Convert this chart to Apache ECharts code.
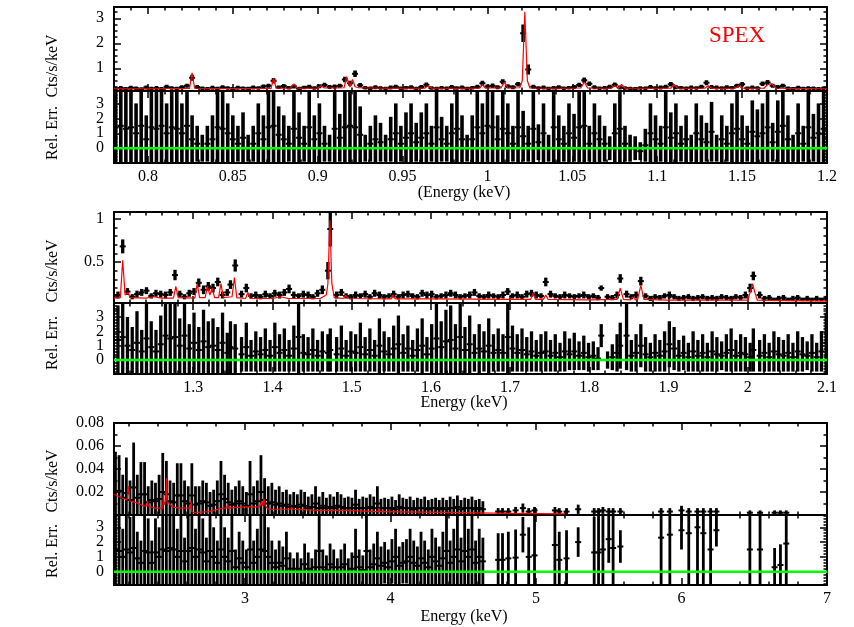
<!DOCTYPE html>
<html>
<head>
<meta charset="utf-8">
<title>SPEX fit</title>
<script src="https://cdn.jsdelivr.net/npm/echarts@6/dist/echarts.min.js"></script>
<style>
html, body { margin: 0; padding: 0; background: #fff; }
#chart { width: 854px; height: 627px; }
</style>
</head>
<body>
<div id="chart"></div>
<script>
// ---- panel 1 : 0.78 - 1.2 keV ----
var p1E = [0.781,0.784,0.787,0.790,0.793,0.796,0.799,0.802,0.805,0.808,
	0.811,0.814,0.817,0.820,0.823,0.826,0.829,0.832,0.835,0.838,
	0.841,0.844,0.847,0.850,0.853,0.856,0.859,0.862,0.865,0.868,
	0.871,0.874,0.877,0.880,0.883,0.886,0.889,0.892,0.895,0.898,
	0.901,0.904,0.907,0.910,0.913,0.916,0.919,0.922,0.925,0.928,
	0.931,0.934,0.937,0.940,0.943,0.946,0.949,0.952,0.955,0.958,
	0.961,0.964,0.967,0.970,0.973,0.976,0.979,0.982,0.985,0.988,
	0.991,0.994,0.997,1.000,1.003,1.006,1.009,1.012,1.015,1.018,
	1.021,1.024,1.027,1.030,1.033,1.036,1.039,1.042,1.045,1.048,
	1.051,1.054,1.057,1.060,1.063,1.066,1.069,1.072,1.075,1.078,
	1.081,1.084,1.087,1.090,1.093,1.096,1.099,1.102,1.105,1.108,
	1.111,1.114,1.117,1.120,1.123,1.126,1.129,1.132,1.135,1.138,
	1.141,1.144,1.147,1.150,1.153,1.156,1.159,1.162,1.165,1.168,
	1.171,1.174,1.177,1.180,1.183,1.186,1.189,1.192,1.195,1.198];
var p1Y = [0.19,0.21,0.18,0.22,0.20,0.17,0.23,0.19,0.21,0.18,
	0.26,0.21,0.19,0.24,0.30,0.62,0.25,0.20,0.18,0.22,
	0.19,0.24,0.21,0.18,0.22,0.20,0.19,0.23,0.21,0.27,
	0.30,0.50,0.24,0.29,0.22,0.27,0.19,0.23,0.26,0.21,
	0.28,0.33,0.25,0.27,0.30,0.55,0.40,0.78,0.32,0.22,
	0.20,0.24,0.21,0.19,0.23,0.26,0.20,0.22,0.24,0.19,
	0.25,0.34,0.21,0.19,0.22,0.20,0.25,0.21,0.23,0.19,
	0.22,0.26,0.40,0.27,0.30,0.24,0.46,0.28,0.24,0.36,
	2.40,0.95,0.26,0.21,0.23,0.19,0.22,0.24,0.20,0.22,
	0.25,0.33,0.52,0.38,0.24,0.20,0.22,0.26,0.34,0.23,
	0.21,0.19,0.18,0.21,0.20,0.25,0.21,0.23,0.26,0.36,
	0.24,0.22,0.20,0.23,0.21,0.26,0.42,0.25,0.23,0.21,
	0.24,0.22,0.30,0.36,0.20,0.23,0.21,0.38,0.43,0.30,
	0.25,0.30,0.20,0.18,0.22,0.19,0.21,0.20,0.18,0.20];
var p1Err = [0.07,0.08,0.07,0.08,0.07,0.07,0.08,0.07,0.08,0.07,
	0.08,0.07,0.07,0.08,0.08,0.12,0.08,0.07,0.07,0.08,
	0.07,0.08,0.07,0.07,0.08,0.07,0.07,0.08,0.07,0.08,
	0.08,0.11,0.07,0.08,0.07,0.08,0.07,0.07,0.08,0.07,
	0.08,0.09,0.08,0.08,0.08,0.11,0.10,0.13,0.09,0.07,
	0.07,0.08,0.07,0.07,0.08,0.08,0.07,0.07,0.08,0.07,
	0.08,0.09,0.07,0.07,0.07,0.07,0.08,0.07,0.08,0.07,
	0.07,0.08,0.10,0.08,0.09,0.08,0.10,0.08,0.08,0.09,
	0.35,0.20,0.08,0.07,0.08,0.07,0.07,0.08,0.07,0.07,
	0.08,0.09,0.11,0.09,0.08,0.07,0.07,0.08,0.09,0.08,
	0.07,0.07,0.07,0.07,0.07,0.08,0.07,0.08,0.08,0.09,
	0.08,0.07,0.07,0.08,0.07,0.08,0.10,0.08,0.08,0.07,
	0.08,0.07,0.08,0.09,0.07,0.08,0.07,0.09,0.10,0.08,
	0.08,0.08,0.07,0.07,0.08,0.07,0.07,0.07,0.07,0.07];
var p1Res = [1.4,1.5,1.3,1.4,1.0,1.5,0.6,1.4,1.3,1.5,
	1.0,1.4,1.3,1.0,1.5,0.6,0.3,0.0,0.3,0.6,
	1.4,1.3,1.0,0.6,0.3,0.7,0.0,0.3,1.0,0.6,
	1.4,1.5,0.9,0.6,0.3,1.3,0.7,0.3,1.4,0.6,
	1.0,0.3,0.0,1.3,0.7,1.4,1.5,1.4,0.9,0.0,
	0.3,0.6,0.4,0.0,0.6,1.0,0.3,0.7,1.0,0.4,
	0.7,1.0,0.3,1.4,0.6,0.3,1.0,1.3,0.6,0.0,
	0.6,1.4,1.0,1.5,1.4,0.6,1.3,1.0,0.3,1.4,
	0.8,0.3,1.3,0.4,1.0,0.0,1.4,0.6,0.3,1.0,
	0.7,1.4,1.5,0.3,1.0,0.6,0.3,0.0,1.0,1.3,
	0.3,0.0,0.0,-0.2,0.2,1.0,0.6,0.3,1.4,0.7,
	1.0,0.3,0.6,0.0,1.0,0.6,0.4,1.1,0.0,0.6,
	0.3,1.0,1.3,0.6,0.3,1.1,0.8,1.0,1.4,0.4,
	1.1,1.5,0.6,0.0,1.0,0.3,1.4,0.7,1.0,1.3];
var p1ResErr = [2.6,2.7,2.5,2.6,2.0,2.7,1.6,2.6,2.5,2.7,
	2.0,2.6,2.5,2.0,2.7,1.6,1.2,0.9,1.2,1.6,
	2.6,2.5,2.0,1.6,1.2,1.7,0.9,1.2,2.0,1.6,
	2.6,2.7,1.9,1.6,1.2,2.5,1.7,1.2,2.6,1.6,
	2.0,1.2,0.9,2.5,1.6,2.6,2.7,2.6,1.9,0.9,
	1.2,1.6,1.3,0.9,1.5,2.0,1.2,1.7,2.0,1.3,
	1.7,2.0,1.2,2.6,1.5,1.2,2.0,2.5,1.6,0.9,
	1.6,2.6,2.0,2.7,2.6,1.6,2.5,2.0,1.2,2.6,
	1.7,1.2,2.5,1.2,2.0,0.9,2.6,1.6,1.2,2.0,
	1.6,2.6,2.7,1.2,2.0,1.6,1.2,0.8,2.0,2.5,
	1.2,0.9,0.8,0.6,1.1,2.0,1.6,1.2,2.6,1.7,
	2.0,1.2,1.6,0.9,2.0,1.6,1.3,2.0,0.9,1.6,
	1.2,2.0,2.5,1.6,1.2,2.1,1.8,2.0,2.6,1.3,
	2.1,2.7,1.6,0.9,2.0,1.2,2.6,1.6,2.0,2.5];
var p1ModE = [0.78,0.80,0.815,0.8245,0.826,0.8275,0.84,0.86,0.8725,0.874,0.8755,0.884,0.886,0.888,
	0.9,0.902,0.904,0.912,0.9155,0.917,0.919,0.9205,0.922,0.924,0.94,0.963,0.965,0.967,0.99,
	0.9955,0.997,0.9985,1.008,1.010,1.012,1.019,1.0205,1.022,1.0235,1.025,1.04,1.055,1.057,
	1.059,1.073,1.075,1.077,1.079,1.081,1.095,1.108,1.110,1.112,1.128,1.130,1.132,1.146,1.148,
	1.150,1.163,1.165,1.1675,1.170,1.185,1.2];
var p1ModY = [0.18,0.18,0.19,0.19,0.82,0.20,0.19,0.19,0.19,0.60,0.20,0.20,0.38,0.20,
	0.20,0.30,0.21,0.21,0.22,0.66,0.25,0.55,0.26,0.22,0.20,0.20,0.30,0.20,0.20,
	0.20,0.35,0.21,0.21,0.45,0.21,0.22,0.50,3.26,0.50,0.21,0.20,0.21,0.45,
	0.21,0.20,0.30,0.20,0.35,0.20,0.20,0.20,0.35,0.20,0.20,0.30,0.20,0.20,0.30,
	0.20,0.20,0.35,0.38,0.20,0.19,0.18];

// ---- panel 2 : 1.2 - 2.1 keV ----
var p2E = [1.205,1.211,1.217,1.223,1.229,1.235,1.241,1.247,1.253,1.259,
	1.265,1.271,1.277,1.283,1.289,1.295,1.301,1.307,1.313,1.319,
	1.325,1.331,1.337,1.343,1.347,1.353,1.361,1.367,1.373,1.379,
	1.385,1.391,1.397,1.403,1.409,1.415,1.421,1.427,1.433,1.439,
	1.445,1.451,1.457,1.463,1.470,1.473,1.481,1.487,1.493,1.499,
	1.505,1.511,1.517,1.523,1.529,1.535,1.541,1.547,1.553,1.559,
	1.565,1.571,1.577,1.583,1.589,1.595,1.601,1.607,1.613,1.619,
	1.625,1.631,1.637,1.643,1.649,1.655,1.661,1.667,1.673,1.679,
	1.685,1.691,1.697,1.703,1.709,1.715,1.721,1.727,1.733,1.739,
	1.745,1.751,1.757,1.763,1.769,1.775,1.781,1.787,1.793,1.799,
	1.805,1.811,1.815,1.823,1.829,1.835,1.839,1.847,1.853,1.859,
	1.865,1.871,1.877,1.883,1.889,1.895,1.901,1.907,1.913,1.919,
	1.925,1.931,1.937,1.943,1.949,1.955,1.961,1.967,1.973,1.979,
	1.985,1.991,1.997,2.003,2.007,2.015,2.021,2.027,2.033,2.039,
	2.045,2.051,2.057,2.063,2.069,2.075,2.081,2.087,2.093,2.099];
var p2Y = [0.12,0.68,0.16,0.10,0.13,0.15,0.17,0.11,0.14,0.13,
	0.12,0.15,0.35,0.13,0.10,0.14,0.16,0.26,0.18,0.22,
	0.20,0.27,0.12,0.15,0.24,0.46,0.13,0.20,0.11,0.12,
	0.10,0.13,0.11,0.14,0.12,0.15,0.19,0.12,0.11,0.13,
	0.12,0.10,0.14,0.18,0.40,0.88,0.12,0.15,0.11,0.10,
	0.12,0.11,0.13,0.10,0.14,0.12,0.10,0.11,0.13,0.10,
	0.12,0.13,0.11,0.10,0.14,0.12,0.13,0.10,0.11,0.12,
	0.14,0.12,0.10,0.11,0.12,0.15,0.11,0.10,0.12,0.11,
	0.10,0.12,0.16,0.11,0.12,0.10,0.13,0.14,0.12,0.11,
	0.27,0.13,0.11,0.10,0.12,0.11,0.10,0.11,0.12,0.10,
	0.11,0.09,0.20,0.10,0.09,0.12,0.31,0.13,0.10,0.12,
	0.28,0.11,0.08,0.10,0.09,0.11,0.12,0.10,0.08,0.09,
	0.10,0.08,0.09,0.10,0.08,0.09,0.08,0.10,0.09,0.08,
	0.10,0.09,0.12,0.20,0.34,0.12,0.08,0.09,0.07,0.08,
	0.09,0.07,0.08,0.09,0.07,0.08,0.07,0.08,0.07,0.08];
var p2Err = [0.04,0.08,0.04,0.03,0.04,0.04,0.04,0.03,0.04,0.04,
	0.04,0.04,0.06,0.04,0.03,0.04,0.04,0.05,0.05,0.05,
	0.05,0.05,0.04,0.04,0.05,0.07,0.04,0.05,0.03,0.04,
	0.03,0.04,0.03,0.04,0.04,0.04,0.05,0.04,0.03,0.04,
	0.04,0.03,0.04,0.05,0.10,0.20,0.04,0.04,0.03,0.03,
	0.04,0.03,0.04,0.03,0.04,0.04,0.03,0.03,0.04,0.03,
	0.04,0.04,0.03,0.03,0.04,0.04,0.04,0.03,0.03,0.04,
	0.04,0.04,0.03,0.03,0.04,0.04,0.03,0.03,0.04,0.03,
	0.03,0.04,0.04,0.03,0.04,0.03,0.04,0.04,0.04,0.03,
	0.05,0.04,0.03,0.03,0.04,0.03,0.03,0.03,0.04,0.03,
	0.03,0.03,0.03,0.03,0.03,0.04,0.05,0.04,0.03,0.04,
	0.05,0.03,0.03,0.03,0.03,0.03,0.04,0.03,0.03,0.03,
	0.03,0.03,0.03,0.03,0.03,0.03,0.03,0.03,0.03,0.03,
	0.03,0.03,0.04,0.05,0.05,0.04,0.03,0.03,0.02,0.03,
	0.03,0.02,0.03,0.03,0.02,0.03,0.02,0.03,0.02,0.03];
var p2Res = [1.4,1.6,1.0,0.7,1.2,0.6,1.5,0.9,0.6,1.1,
	1.7,1.5,1.6,1.0,1.7,0.8,1.2,0.7,1.3,0.9,
	1.0,0.7,1.2,0.5,0.9,0.8,0.4,0.9,0.3,0.6,
	0.4,0.7,0.3,0.9,0.5,0.7,0.3,0.8,1.6,0.5,
	0.4,0.7,0.3,0.6,0.5,0.7,0.4,0.8,0.3,0.6,
	0.5,0.9,0.4,0.7,0.3,1.0,0.6,0.4,0.8,1.1,
	0.5,0.8,0.3,0.7,1.0,0.4,0.8,1.5,0.9,1.3,
	1.4,0.8,1.6,0.7,1.1,0.5,0.8,0.6,1.0,0.5,
	0.7,0.5,1.6,0.8,0.5,0.7,0.4,0.6,0.3,0.5,
	0.6,0.3,0.5,0.2,0.6,0.4,0.6,0.3,0.5,0.2,
	0.3,0.1,1.7,0.0,0.2,0.5,1.0,1.7,0.3,0.5,
	1.0,0.4,0.2,0.5,0.3,0.6,1.1,0.8,0.3,0.5,
	0.2,0.6,0.3,0.5,0.2,0.6,0.4,0.3,0.5,0.7,
	0.3,0.5,0.4,0.2,0.7,0.3,0.5,0.2,0.6,0.4,
	0.3,0.5,0.2,0.6,0.4,0.3,0.5,0.2,0.6,1.2];
var p2ResErr = [2.4,2.5,2.0,1.6,2.2,1.5,2.5,1.8,1.5,2.0,
	2.6,2.5,2.6,1.9,2.7,1.7,2.1,1.6,2.2,1.8,
	1.9,1.6,2.1,1.4,1.8,1.7,1.2,1.7,1.1,1.4,
	1.2,1.5,1.1,1.7,1.3,1.5,1.1,1.6,2.6,1.3,
	1.2,1.5,1.1,1.4,1.3,1.5,1.2,1.6,1.1,1.4,
	1.3,1.7,1.2,1.5,1.1,1.9,1.4,1.2,1.6,2.0,
	1.3,1.6,1.1,1.5,1.9,1.2,1.7,2.4,1.8,2.2,
	2.4,1.7,2.5,1.6,2.0,1.3,1.7,1.4,1.9,1.3,
	1.5,1.3,2.6,1.6,1.3,1.5,1.2,1.4,1.1,1.3,
	1.4,1.1,1.3,1.0,1.4,1.1,1.3,1.0,1.2,1.0,
	1.0,0.8,0.8,0.6,0.9,1.3,1.6,2.4,1.1,1.3,
	1.5,1.2,1.0,1.3,1.1,1.4,1.6,1.5,1.1,1.2,
	1.0,1.4,1.1,1.3,1.0,1.4,1.2,1.0,1.3,1.5,
	1.1,1.3,1.2,1.0,1.5,1.1,1.3,1.0,1.4,1.2,
	1.1,1.3,1.0,1.4,1.2,1.0,1.3,1.0,1.4,2.1];
var p2ModE = [1.2,1.208,1.211,1.214,1.218,1.22,1.24,1.25,1.26,1.275,1.278,1.281,1.302,1.305,
	1.308,1.315,1.318,1.321,1.324,1.327,1.332,1.335,1.338,1.349,1.352,1.355,1.366,1.369,
	1.372,1.40,1.41,1.42,1.46,1.468,1.470,1.4725,1.475,1.478,1.49,1.492,1.495,1.55,1.552,
	1.555,1.60,1.70,1.726,1.729,1.732,1.742,1.745,1.748,1.80,1.835,1.839,1.843,1.852,1.855,
	1.858,1.861,1.865,1.869,1.90,1.95,2.0,2.003,2.006,2.009,2.012,2.05,2.1];
var p2ModY = [0.085,0.09,0.52,0.12,0.15,0.09,0.085,0.10,0.085,0.085,0.22,0.09,0.085,0.25,
	0.09,0.09,0.22,0.12,0.20,0.09,0.09,0.25,0.09,0.10,0.32,0.09,0.08,0.15,
	0.08,0.08,0.10,0.08,0.08,0.12,0.25,0.98,0.25,0.09,0.08,0.12,0.08,0.075,0.12,
	0.075,0.075,0.07,0.07,0.14,0.07,0.07,0.12,0.07,0.065,0.07,0.20,0.07,0.065,0.10,
	0.065,0.07,0.23,0.07,0.06,0.06,0.06,0.15,0.25,0.15,0.06,0.055,0.05];

// ---- panel 3 : 2.1 - 7 keV ----
var p3E = [2.110,2.135,2.160,2.185,2.210,2.235,2.260,2.285,2.310,2.335,
	2.360,2.385,2.410,2.435,2.460,2.485,2.510,2.535,2.560,2.585,
	2.610,2.635,2.660,2.685,2.710,2.735,2.760,2.785,2.810,2.835,
	2.860,2.885,2.910,2.935,2.960,2.985,3.010,3.035,3.060,3.085,
	3.110,3.135,3.160,3.185,3.210,3.235,3.260,3.285,3.310,3.335,
	3.360,3.385,3.410,3.435,3.460,3.485,3.510,3.535,3.560,3.585,
	3.610,3.635,3.660,3.685,3.710,3.735,3.760,3.785,3.810,3.835,
	3.860,3.885,3.910,3.935,3.960,3.985,4.010,4.035,4.060,4.085,
	4.110,4.135,4.160,4.185,4.210,4.235,4.260,4.285,4.310,4.335,
	4.360,4.385,4.410,4.435,4.460,4.485,4.510,4.535,4.560,4.585,
	4.610,4.635,
	4.74,4.77,4.81,4.86,4.91,4.95,4.99,5.13,5.16,5.21,
	5.29,5.40,5.43,5.46,5.50,5.53,5.58,5.86,5.92,6.00,
	6.05,6.11,6.15,6.20,6.24,6.47,6.54,6.64,6.68,6.72];
var p3Y = [0.020,0.021,0.015,0.019,0.013,0.024,0.015,0.018,0.018,0.011,
	0.013,0.012,0.014,0.020,0.018,0.012,0.011,0.017,0.017,0.012,
	0.010,0.017,0.009,0.010,0.012,0.011,0.008,0.009,0.012,0.018,
	0.014,0.011,0.009,0.010,0.012,0.010,0.008,0.018,0.010,0.012,
	0.020,0.013,0.010,0.011,0.009,0.010,0.008,0.009,0.007,0.008,
	0.007,0.009,0.008,0.006,0.007,0.010,0.006,0.008,0.006,0.007,
	0.006,0.008,0.007,0.006,0.006,0.006,0.009,0.006,0.006,0.006,
	0.007,0.006,0.010,0.006,0.006,0.006,0.006,0.005,0.007,0.006,
	0.006,0.006,0.005,0.006,0.006,0.006,0.005,0.006,0.006,0.005,
	0.006,0.005,0.006,0.006,0.007,0.005,0.006,0.006,0.006,0.005,
	0.006,0.005,
	0.003,0.003,0.003,0.004,0.006,0.003,0.004,0.004,0.003,0.003,
	0.005,0.003,0.003,0.004,0.003,0.003,0.003,0.003,0.003,0.004,
	0.003,0.003,0.003,0.003,0.003,0.002,0.002,0.002,0.002,0.002];
var p3Err = [0.035,0.031,0.020,0.031,0.017,0.039,0.020,0.028,0.028,0.014,
	0.017,0.016,0.021,0.034,0.029,0.018,0.017,0.028,0.028,0.018,
	0.015,0.028,0.016,0.015,0.018,0.017,0.012,0.013,0.018,0.029,
	0.021,0.017,0.013,0.015,0.018,0.015,0.012,0.029,0.015,0.018,
	0.032,0.019,0.015,0.017,0.013,0.015,0.012,0.013,0.011,0.012,
	0.011,0.013,0.012,0.010,0.011,0.015,0.010,0.012,0.009,0.011,
	0.010,0.012,0.011,0.009,0.010,0.009,0.013,0.008,0.010,0.009,
	0.011,0.010,0.015,0.008,0.009,0.008,0.010,0.008,0.011,0.009,
	0.008,0.010,0.008,0.009,0.008,0.010,0.008,0.008,0.009,0.008,
	0.009,0.008,0.010,0.008,0.010,0.008,0.009,0.008,0.010,0.008,
	0.008,0.007,
	0.003,0.003,0.003,0.003,0.004,0.003,0.003,0.003,0.003,0.003,
	0.004,0.003,0.003,0.003,0.003,0.003,0.003,0.003,0.003,0.004,
	0.003,0.003,0.003,0.003,0.003,0.002,0.002,0.002,0.002,0.002];
var p3Res = [1.5,1.4,1.0,1.5,1.3,1.6,0.9,0.6,1.4,1.3,
	0.6,1.3,1.0,1.5,1.4,1.6,1.5,1.0,1.4,0.7,
	1.4,1.6,1.0,1.5,1.3,0.7,1.4,1.0,0.6,1.5,
	1.0,0.7,1.4,0.3,0.9,0.6,0.3,1.5,0.6,1.0,
	1.5,1.4,1.0,0.6,0.3,0.6,0.4,0.9,0.2,0.0,
	0.2,0.0,0.5,0.2,0.0,0.3,1.4,0.3,0.1,0.5,
	0.3,0.0,0.3,0.5,0.0,0.2,1.0,0.3,0.1,1.4,
	0.3,0.5,0.9,0.4,0.6,0.3,0.7,1.0,0.4,0.6,
	0.7,1.0,0.6,0.4,0.9,0.6,0.3,1.0,0.7,0.4,
	0.9,1.4,0.6,1.0,1.5,0.7,1.4,1.0,1.5,0.6,
	1.0,0.7,
	0.8,0.8,0.9,0.95,2.5,1.0,1.1,1.8,0.8,0.9,
	2.0,1.3,1.3,1.5,2.2,1.6,1.7,2.3,2.5,2.8,
	2.6,3.0,2.6,1.5,2.8,1.5,1.5,0.3,0.45,1.9];
var p3ResErr = [2.6,2.5,1.9,2.6,2.4,2.6,1.8,1.5,2.5,2.3,
	1.5,2.3,2.0,2.6,2.5,2.7,2.6,1.9,2.5,1.6,
	2.5,2.7,1.9,2.6,2.3,1.6,2.5,2.0,1.5,2.6,
	2.0,1.6,2.5,1.2,1.8,1.5,1.2,2.6,1.5,1.9,
	2.6,2.4,2.0,1.5,1.2,1.5,1.3,1.8,1.1,0.9,
	1.1,0.9,1.4,1.1,0.9,1.2,2.5,1.2,1.0,1.4,
	1.2,0.9,1.2,1.4,0.9,1.1,1.9,1.2,1.0,2.5,
	1.2,1.4,1.8,1.3,1.4,1.2,1.5,1.9,1.3,1.4,
	1.5,1.9,1.5,1.3,1.8,1.5,1.2,1.9,1.6,1.3,
	1.8,2.5,1.5,1.9,2.6,1.6,2.5,1.9,2.6,1.5,
	1.9,1.6,
	1.8,1.8,1.8,1.9,1.2,2.0,2.8,2.8,1.9,1.9,
	1.0,2.4,2.5,2.6,1.6,2.6,1.1,3.2,3.4,1.3,
	3.5,3.9,3.5,2.7,1.1,2.7,2.7,1.3,1.4,2.9];
var p3ModE = [2.1,2.15,2.19,2.2,2.21,2.25,2.3,2.325,2.33,2.335,2.38,2.42,2.435,2.44,2.445,
	2.455,2.46,2.465,2.5,2.55,2.6,2.625,2.63,2.635,2.65,2.75,2.85,2.875,2.88,2.885,3.0,
	3.1,3.115,3.12,3.13,3.14,3.16,3.3,3.315,3.32,3.325,3.5,3.7,3.9,3.915,3.92,3.925,3.95,
	4.2,4.5,4.8,5.2];
var p3ModY = [0.018,0.015,0.013,0.025,0.012,0.011,0.008,0.008,0.012,0.008,0.006,0.006,0.006,0.018,0.009,
	0.012,0.032,0.012,0.007,0.006,0.006,0.006,0.012,0.003,0.002,0.003,0.006,0.006,0.010,0.006,0.007,
	0.007,0.012,0.008,0.014,0.008,0.005,0.005,0.005,0.007,0.005,0.004,0.004,0.003,0.003,0.006,0.003,0.003,
	0.0025,0.002,0.0015,0.001];

// ---- tick labels ----
var p1XTicks = [0.8,0.85,0.9,0.95,1,1.05,1.1,1.15,1.2];
var p2XTicks = [1.3,1.4,1.5,1.6,1.7,1.8,1.9,2,2.1];
var p3XTicks = [3,4,5,6,7];
var p1YTicks = [1,2,3];
var p2YTicks = [0.5,1];
var p3YTicks = [0.02,0.04,0.06,0.08];
var resTicks = [0,1,2,3];
// residual labels are split over two axes so none is thinned out
var resLabelsA = [0,2];
var resLabelsB = [1,3];

var FONT = 'Liberation Serif';

function steps(a, b, d) {
	var out = [];
	for (var v = a; v <= b + d / 1000; v += d) out.push(Math.round(v * 1e6) / 1e6);
	return out;
}

var panels = [
	{top: 7, height: 84, x: [0.78, 1.2], y: [0.09, 3.45], xMaj: p1XTicks, xMin: steps(0.78, 1.2, 0.01), yMaj: p1YTicks, yMin: steps(0.25, 3.25, 0.25), res: false, bw: 3.6},
	{top: 91, height: 72, x: [0.78, 1.2], y: [-0.99, 3.83], xMaj: p1XTicks, xMin: steps(0.78, 1.2, 0.01), yMaj: resTicks, yMin: steps(-0.8, 3.8, 0.2), res: true, bw: 3.6},
	{top: 212, height: 91, x: [1.2, 2.1], y: [0.028, 1.076], xMaj: p2XTicks, xMin: steps(1.2, 2.1, 0.02), yMaj: p2YTicks, yMin: steps(0.1, 1.0, 0.1), res: false, bw: 3.3},
	{top: 303, height: 71, x: [1.2, 2.1], y: [-0.97, 3.97], xMaj: p2XTicks, xMin: steps(1.2, 2.1, 0.02), yMaj: resTicks, yMin: steps(-0.8, 3.8, 0.2), res: true, bw: 3.3},
	{top: 423, height: 92, x: [2.1, 7], y: [0, 0.08], xMaj: p3XTicks, xMin: steps(2.2, 7, 0.2), yMaj: p3YTicks, yMin: steps(0.01, 0.08, 0.01), res: false, bw: 2.8},
	{top: 515, height: 70, x: [2.1, 7], y: [-0.9, 3.83], xMaj: p3XTicks, xMin: steps(2.2, 7, 0.2), yMaj: resTicks, yMin: steps(-0.8, 3.8, 0.2), res: true, bw: 2.8}
];

function axisDef(dim, g, pos, major, p) {
	var range = dim === 'x' ? p.x : p.y;
	var maj = dim === 'x' ? p.xMaj : p.yMaj;
	var mnr = dim === 'x' ? p.xMin : p.yMin;
	var showLabel, labelValues = maj;
	if (dim === 'x') {
		showLabel = major && pos === 'bottom' && p.res;
	} else if (p.res) {
		showLabel = pos === 'left';
		labelValues = major ? resLabelsA : resLabelsB;
	} else {
		showLabel = major && pos === 'left';
	}
	return {
		type: 'value', gridIndex: g, position: pos, min: range[0], max: range[1],
		axisLine: {show: major, onZero: false, lineStyle: {color: '#000', width: 2}},
		axisTick: {show: true, inside: true, length: major ? 7 : 3.5, customValues: major ? maj : mnr,
			lineStyle: {color: '#000', width: 1.5}},
		axisLabel: {show: showLabel, customValues: labelValues, margin: dim === 'x' ? 6 : 10,
			hideOverlap: false, showMinLabel: true, showMaxLabel: true,
			color: '#000', fontFamily: FONT, fontSize: 16},
		splitLine: {show: false}
	};
}

var grid = [], xAxis = [], yAxis = [];
panels.forEach(function (p, g) {
	grid.push({left: 114, width: 713, top: p.top, height: p.height, show: false});
	[['bottom', true], ['bottom', false], ['top', true], ['top', false]].forEach(function (s) {
		xAxis.push(axisDef('x', g, s[0], s[1], p));
	});
	[['left', true], ['left', false], ['right', true], ['right', false]].forEach(function (s) {
		yAxis.push(axisDef('y', g, s[0], s[1], p));
	});
});

function errSeries(g, E, Y, Err) {
	var bw = panels[g].bw;
	return {
		type: 'custom', xAxisIndex: 4 * g, yAxisIndex: 4 * g, clip: true, z: 3, silent: true,
		data: E.map(function (e, i) { return [e, Y[i], Err[i]]; }),
		renderItem: function (params, api) {
			var x = api.value(0), y = api.value(1), er = api.value(2);
			var c = api.coord([x, y]);
			var lo = api.coord([x, y - er]);
			var hi = api.coord([x, y + er]);
			return {
				type: 'group',
				children: [
					{type: 'line', shape: {x1: c[0], y1: lo[1], x2: c[0], y2: hi[1]}, style: {stroke: '#000', lineWidth: bw}},
					{type: 'line', shape: {x1: c[0] - 3, y1: c[1], x2: c[0] + 3, y2: c[1]}, style: {stroke: '#000', lineWidth: 2}}
				]
			};
		}
	};
}

function modelSeries(g, E, M) {
	return {
		type: 'line', xAxisIndex: 4 * g, yAxisIndex: 4 * g, z: 4, silent: true,
		symbol: 'none', clip: true,
		lineStyle: {color: '#ff0000', width: 1.2},
		data: E.map(function (e, i) { return [e, M[i]]; })
	};
}

function zeroSeries(g) {
	var r = panels[g].x;
	return {
		type: 'line', xAxisIndex: 4 * g, yAxisIndex: 4 * g, z: 5, silent: true,
		symbol: 'none', lineStyle: {color: '#00ff00', width: 2.5},
		data: [[r[0], 0], [r[1], 0]]
	};
}

var series = [
	errSeries(0, p1E, p1Y, p1Err), modelSeries(0, p1ModE, p1ModY),
	errSeries(1, p1E, p1Res, p1ResErr), zeroSeries(1),
	errSeries(2, p2E, p2Y, p2Err), modelSeries(2, p2ModE, p2ModY),
	errSeries(3, p2E, p2Res, p2ResErr), zeroSeries(3),
	errSeries(4, p3E, p3Y, p3Err), modelSeries(4, p3ModE, p3ModY),
	errSeries(5, p3E, p3Res, p3ResErr), zeroSeries(5)
];

function label(text, x, y, rot, size, color) {
	return {
		type: 'text', x: x, y: y, rotation: rot, z: 10,
		style: {text: text, fill: color || '#000', font: size + 'px "' + FONT + '"', align: 'center', verticalAlign: 'middle'}
	};
}

var graphic = [
	label('Cts/s/keV', 53, 66, Math.PI / 2, 16),
	label('Rel. Err.', 53, 133, Math.PI / 2, 16),
	label('Cts/s/keV', 53, 271, Math.PI / 2, 16),
	label('Rel. Err.', 53, 343, Math.PI / 2, 16),
	label('Cts/s/keV', 53, 481, Math.PI / 2, 16),
	label('Rel. Err.', 53, 551, Math.PI / 2, 16),
	label('(Energy (keV)', 464, 193, 0, 16),
	label('Energy (keV)', 464, 403, 0, 16),
	label('Energy (keV)', 464, 617, 0, 16),
	label('SPEX', 737, 36, 0, 23, '#ff0000')
];

var myChart = echarts.init(document.getElementById('chart'));
myChart.setOption({
	animation: false,
	backgroundColor: '#fff',
	grid: grid,
	xAxis: xAxis,
	yAxis: yAxis,
	series: series,
	graphic: graphic
});
</script>
</body>
</html>
